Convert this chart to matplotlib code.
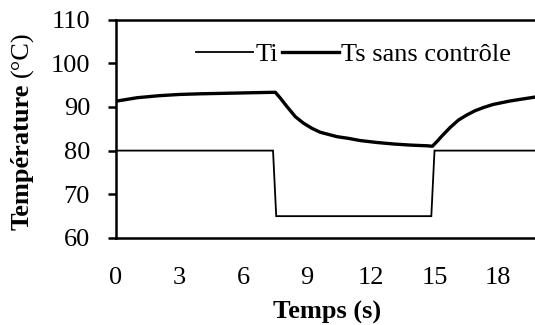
import matplotlib
matplotlib.use("Agg")
import matplotlib.pyplot as plt

# Data
time_ti = [0, 7.4, 7.55, 14.85, 15.0, 19.8]
ti_vals = [80, 80, 65, 65, 80, 80]

time_ts = [0, 1, 2, 3, 4, 5, 6, 7, 7.51, 7.75, 8.06, 8.45, 8.84, 9.23, 9.62,
           10.4, 10.95, 11.5, 12.3, 13.1, 13.9, 14.65, 14.9, 15.12, 15.35,
           15.74, 16.13, 16.52, 16.9, 17.3, 17.75, 18.55, 19.2, 19.8]
ts_vals = [91.3, 92.1, 92.55, 92.85, 93.0, 93.1, 93.2, 93.3, 93.34, 91.97, 90.05,
           87.76, 86.25, 85.1, 84.2, 83.2, 82.8, 82.3, 81.85, 81.5, 81.25, 81.1,
           81.0, 82.1, 83.35, 85.3, 87.0, 88.15, 89.1, 89.85, 90.55, 91.35, 91.85, 92.3]

x_ticks = [0, 3, 6, 9, 12, 15, 18]
y_ticks = [60, 70, 80, 90, 100, 110]

plt.rcParams['font.family'] = ['Liberation Serif', 'DejaVu Serif']
FS = 19

fig = plt.figure(figsize=(5.35, 3.25), dpi=100)
ax = fig.add_axes([115.8 / 535, 1 - 238 / 325, 1 - 115.8 / 535, (238 - 19.5) / 325])

ax.plot(time_ti, ti_vals, color='black', lw=1.3, label='Ti', solid_joinstyle='miter')
ax.plot(time_ts, ts_vals, color='black', lw=2.4, label='Ts sans contrôle')

ax.set_xlim(0, 19.73)
ax.set_ylim(60, 110)
ax.set_xticks(x_ticks)
ax.set_yticks(y_ticks)
ax.tick_params(axis='x', length=0, pad=21, labelsize=FS)
ax.tick_params(axis='y', length=6, width=1.8, pad=12.5, labelsize=FS, direction='out')

for s in ['left', 'top', 'bottom']:
    ax.spines[s].set_linewidth(1.8)
    ax.spines[s].set_color('black')
ax.spines['right'].set_visible(False)

leg = ax.legend(loc='center', bbox_to_anchor=(0.567, 0.842), ncol=2, frameon=False,
                fontsize=FS, handlelength=2.15, handletextpad=0.08, columnspacing=0.15,
                borderpad=0, borderaxespad=0)

# Axis labels
fig.text(326.7 / 535, 1 - 312 / 325, 'Temps (s)', ha='center', va='center',
         fontsize=FS, fontweight='bold')
fig.text(22.5 / 535, 1 - 230 / 325, 'Température', rotation=90, rotation_mode='anchor',
         ha='left', va='center', fontsize=FS, fontweight='bold')
fig.text(22.5 / 535, 1 - 77 / 325, '(°C)', rotation=90, rotation_mode='anchor',
         ha='left', va='center', fontsize=FS)

fig.savefig('out.png', dpi=100)
